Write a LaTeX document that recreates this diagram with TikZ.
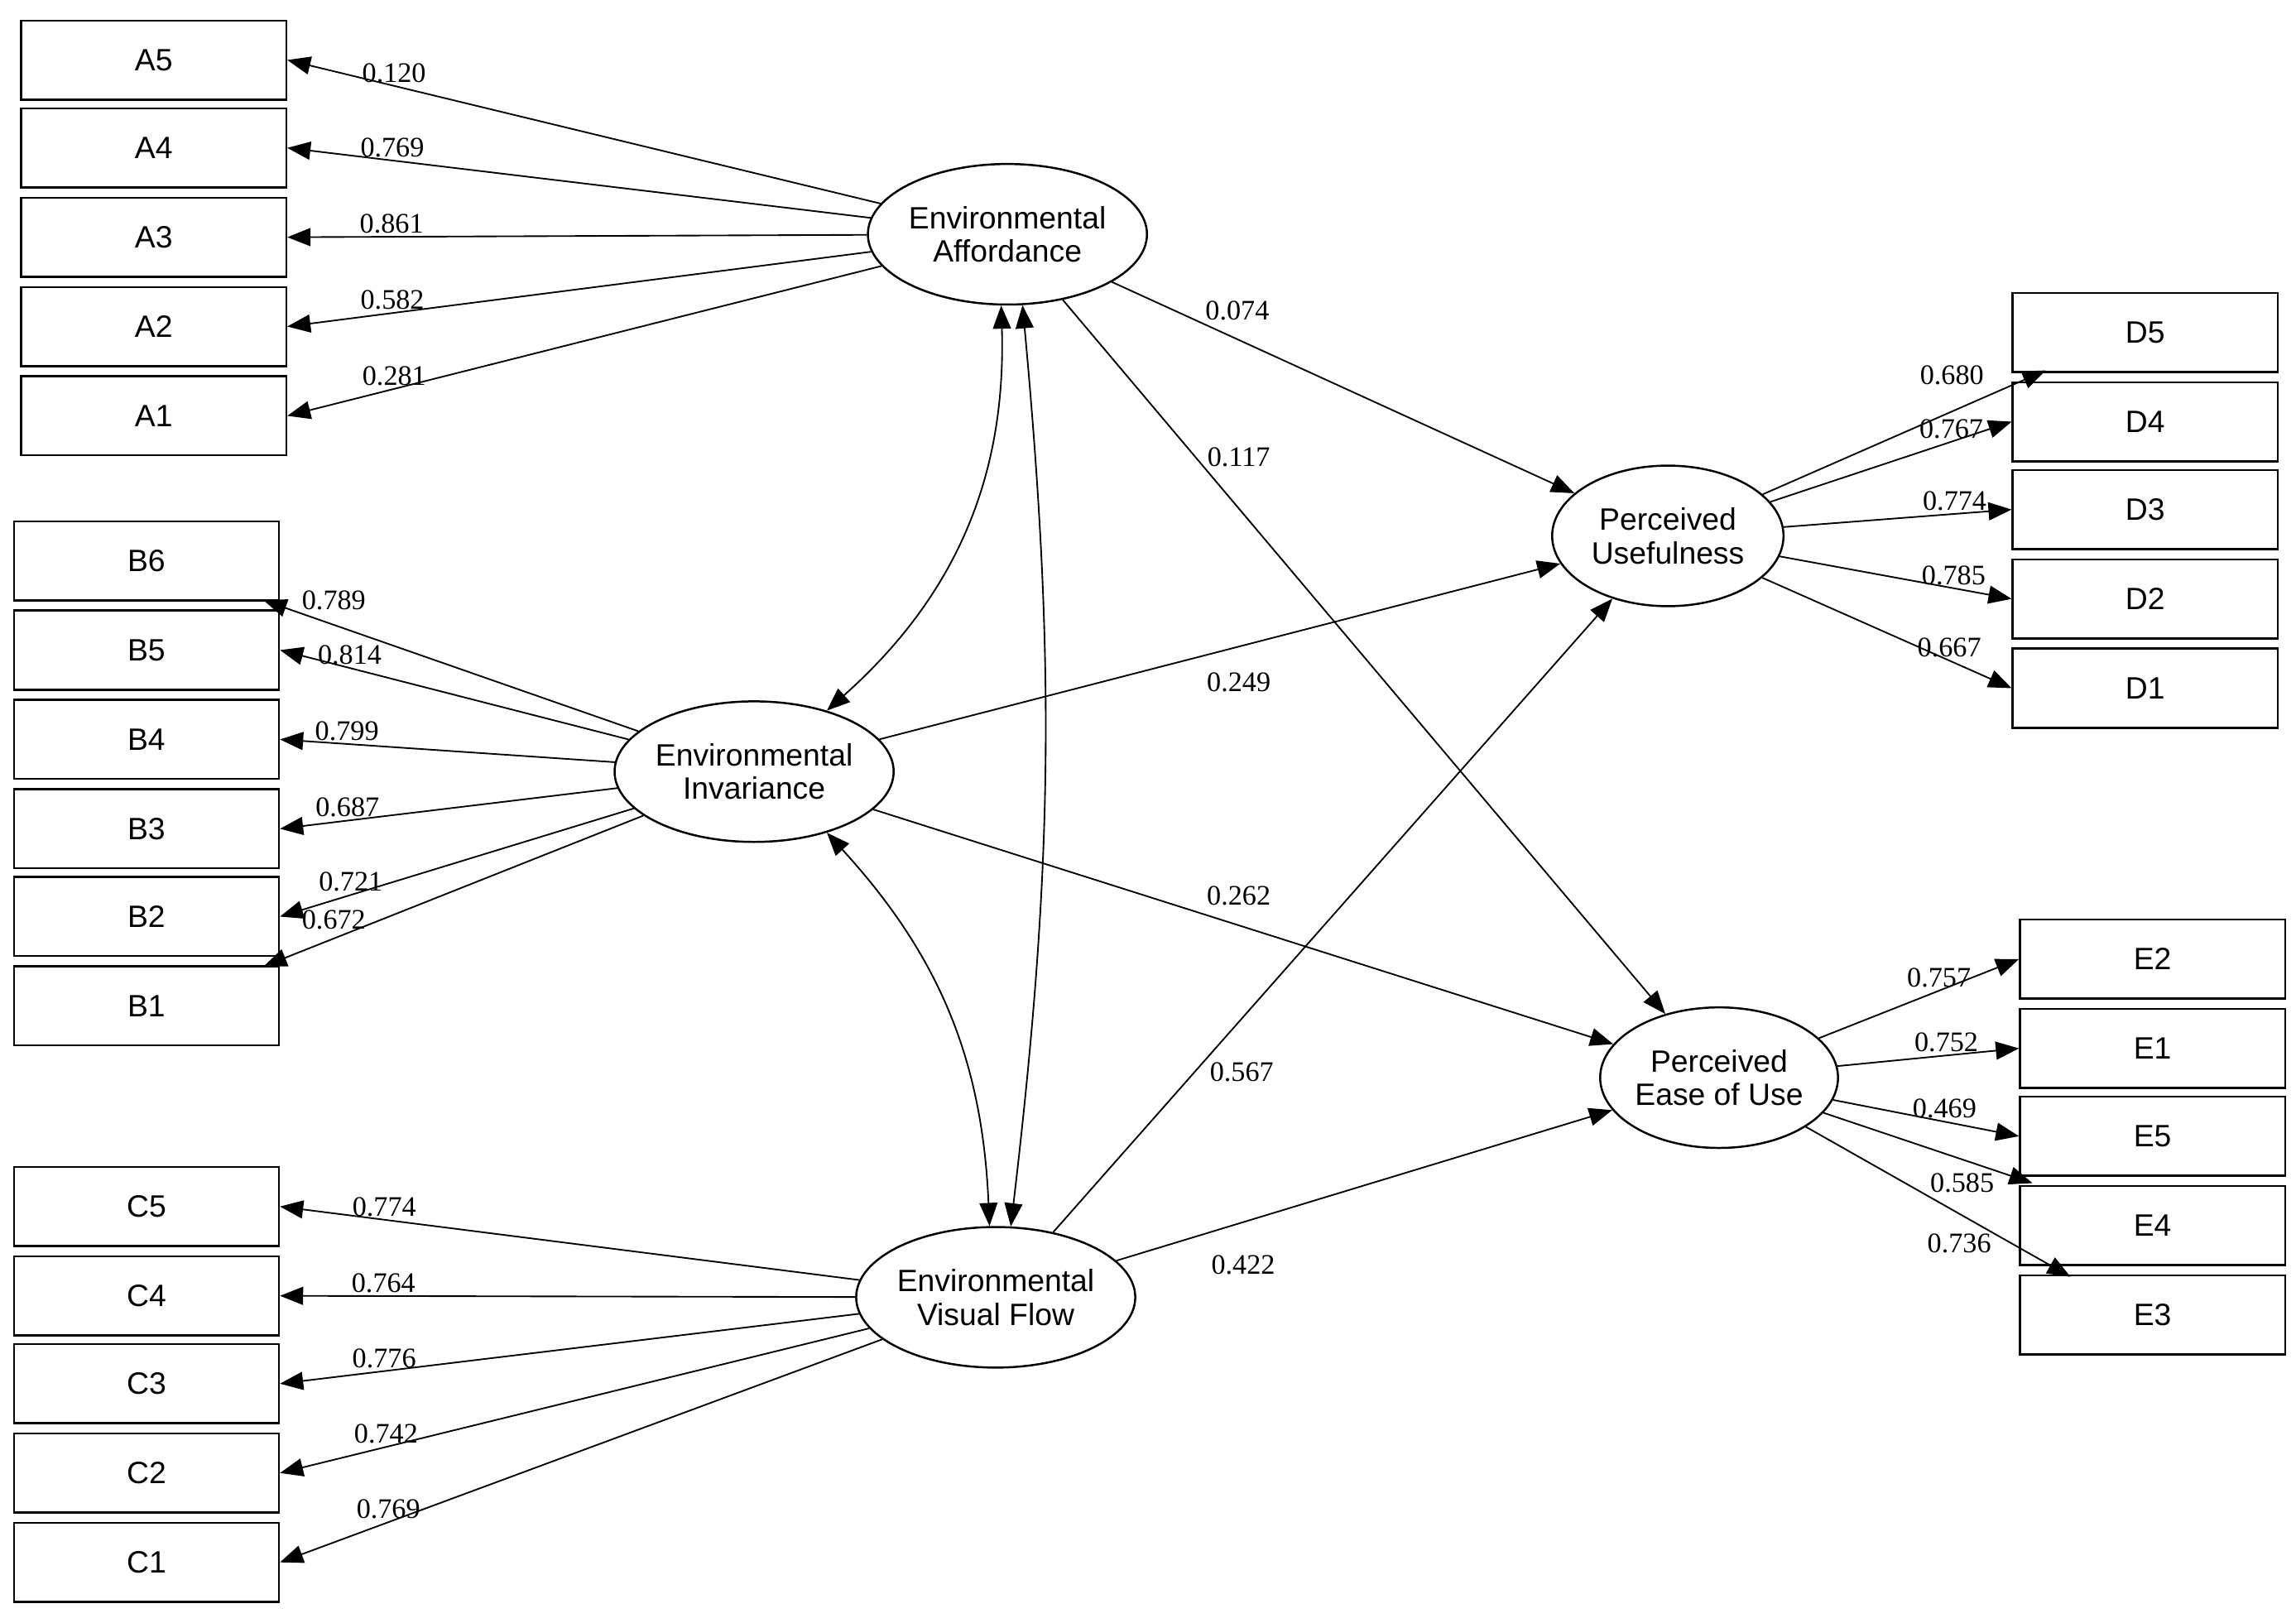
\documentclass[tikz,border=0pt]{standalone}
\usepackage{fontspec}
\setmainfont{Liberation Serif}
\newfontfamily\sans{Liberation Sans}
\usetikzlibrary{arrows.meta,shapes.geometric}
\begin{document}
\begin{tikzpicture}[x=0.02cm,y=-0.02cm,
 box/.style={draw,thick,minimum width=181*0.02cm,minimum height=54*0.02cm,inner sep=0pt,font=\sans\fontsize{12}{12}\selectfont},
 lat/.style={draw,thick,ellipse,minimum width=158*0.02cm,minimum height=96*0.02cm,inner sep=0pt,align=center,font=\sans\fontsize{12}{13}\selectfont},
 arr/.style={-{Triangle[length=9pt,width=7pt]},line width=0.6pt},
 darr/.style={{Triangle[length=9pt,width=7pt]}-{Triangle[length=9pt,width=7pt]},line width=0.6pt},
 lab/.style={font=\fontsize{11}{11}\selectfont,inner sep=1pt}]
\useasboundingbox (0,0) rectangle (1568,1108);
% boxes
\foreach \n/\y in {A5/41,A4/101,A3/162,A2/223,A1/284}{\node[box] (\n) at (105,\y) {\n};}
\foreach \n/\y in {B6/383,B5/444,B4/505,B3/566,B2/626,B1/687}{\node[box] (\n) at (100,\y) {\n};}
\foreach \n/\y in {C5/824,C4/885,C3/945,C2/1006,C1/1067}{\node[box] (\n) at (100,\y) {\n};}
\foreach \n/\y in {D5/227,D4/288,D3/348,D2/409,D1/470}{\node[box] (\n) at (1465,\y) {\n};}
\foreach \n/\y in {E2/655,E1/716,E5/776,E4/837,E3/898}{\node[box] (\n) at (1470,\y) {\n};}
% latent
\node[lat] (EA) at (688,160) {Environmental\\Affordance};
\node[lat] (EI) at (515,527) {Environmental\\Invariance};
\node[lat] (EV) at (680,886) {Environmental\\Visual Flow};
\node[lat] (PU) at (1139,366) {Perceived\\Usefulness};
\node[lat] (PE) at (1174,736) {Perceived\\Ease of Use};
% loadings
\foreach \n/\v in {A5/0.120,A4/0.769,A3/0.861,A2/0.582,A1/0.281}{\draw[arr] (EA) -- (\n.east) node[lab,pos=0.82,above] {\v};}
\coordinate (b6) at (180,410); \coordinate (b1) at (180,660);
\draw[arr] (EI) -- (b6);
\node[lab] at (228,410) {0.789};
\foreach \n/\v in {B5/0.814,B4/0.799,B3/0.687,B2/0.721}{\draw[arr] (EI) -- (\n.east) node[lab,pos=0.8,above] {\v};}
\draw[arr] (EI) -- (b1);
\node[lab] at (228,628) {0.672};
\foreach \n/\v in {C5/0.774,C4/0.764,C3/0.776,C2/0.742,C1/0.769}{\draw[arr] (EV) -- (\n.east) node[lab,pos=0.82,above] {\v};}
\coordinate (d5) at (1397,253);
\draw[arr] (PU) -- (d5);
\node[lab] at (1333,256) {0.680};
\foreach \n/\v in {D4/0.767,D3/0.774,D2/0.785,D1/0.667}{\draw[arr] (PU) -- (\n.west) node[lab,pos=0.75,above] {\v};}
\coordinate (e4) at (1388,808); \coordinate (e3) at (1414,872);
\foreach \n/\v in {E2/0.757,E1/0.752,E5/0.469}{\draw[arr] (PE) -- (\n.west) node[lab,pos=0.6,above] {\v};}
\draw[arr] (PE) -- (e4);
\node[lab] at (1340,808) {0.585};
\draw[arr] (PE) -- (e3);
\node[lab] at (1338,849) {0.736};
% structural
\draw[arr] (EA) -- (PU);
\node[lab] at (845,212) {0.074};
\draw[arr] (EA) -- (PE);
\node[lab] at (846,312) {0.117};
\draw[arr] (EI) -- (PU);
\node[lab] at (846,466) {0.249};
\draw[arr] (EI) -- (PE);
\node[lab] at (846,612) {0.262};
\draw[arr] (EV) -- (PU);
\node[lab] at (848,732) {0.567};
\draw[arr] (EV) -- (PE);
\node[lab] at (849,864) {0.422};
% correlations
\draw[darr] (EA.265) to[bend left=25] (EI.40);
\draw[darr] (EA.282) to[bend left=6] (EV.78);
\draw[darr] (EI.-40) to[bend left=20] (EV.95);
\end{tikzpicture}
\end{document}
